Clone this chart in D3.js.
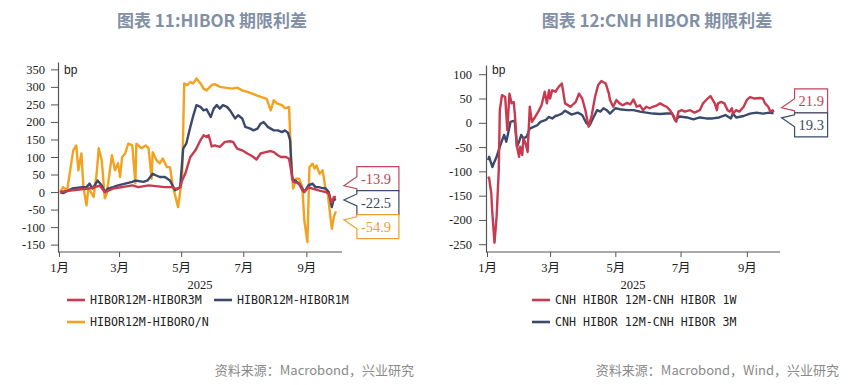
<!DOCTYPE html>
<html>
<head>
<meta charset="utf-8">
<script src="https://cdn.jsdelivr.net/npm/d3@7"></script>
<style>
  body { margin: 0; background: #fff; }
  svg { display: block; }
  .title { font-family: "Noto Sans CJK SC", sans-serif; font-weight: bold; font-size: 17px; fill: #8290a6; }
  .tick text { font-family: "Liberation Serif", "Noto Sans CJK SC", serif; font-size: 12.5px; fill: #222; }
  .legend text { font-family: "DejaVu Sans Mono", monospace; font-size: 11.6px; fill: #222; }
  .source { font-family: "Noto Sans CJK SC", sans-serif; font-size: 13px; fill: #8a8a8a; }
  .unit { font-family: "Liberation Sans", sans-serif; font-size: 12px; fill: #222; }
  .callout text { font-family: "Liberation Serif", serif; font-size: 14.5px; }
</style>
</head>
<body>
<div id="chart"></div>
<script>
// HIBOR term spreads, bp
const hibor3M = [
  ["01-02", 0], ["01-14", 5], ["01-30", 10], ["02-10", 18], ["02-15", 0], ["02-23", 10],
  ["03-04", 14], ["03-14", 19], ["03-20", 14], ["03-30", 19], ["04-06", 17], ["04-15", 14],
  ["04-22", 14], ["04-27", 8], ["04-30", 14], ["05-02", 33], ["05-05", 52], ["05-10", 100],
  ["05-15", 119], ["05-20", 148], ["05-23", 162], ["05-26", 157], ["05-28", 162], ["05-31", 130],
  ["06-03", 133], ["06-08", 129], ["06-13", 143], ["06-18", 145], ["06-21", 143], ["06-25", 124],
  ["06-30", 119], ["07-05", 110], ["07-10", 102], ["07-14", 93], ["07-18", 110], ["07-23", 114],
  ["07-28", 117], ["07-31", 114], ["08-04", 105], ["08-07", 100], ["08-12", 100], ["08-15", 95],
  ["08-17", 62], ["08-19", 29], ["08-23", 26], ["08-25", 22], ["08-28", 5], ["08-30", 0],
  ["09-03", 14], ["09-07", 10], ["09-13", 5], ["09-20", 0], ["09-23", -5], ["09-26", -30],
  ["09-28", -14], ["09-30", -13.9]
];
const hibor1M = [
  ["01-02", 0], ["01-05", -3], ["01-14", 10], ["01-24", 14], ["01-28", 14], ["01-31", 24],
  ["02-03", 10], ["02-08", 33], ["02-12", 19], ["02-15", 0], ["02-18", 10], ["02-23", 14],
  ["02-28", 19], ["03-07", 24], ["03-14", 29], ["03-17", 33], ["03-25", 29], ["03-29", 33],
  ["04-03", 52], ["04-06", 48], ["04-10", 43], ["04-15", 43], ["04-20", 33], ["04-25", 5],
  ["04-27", 10], ["04-30", 14], ["05-03", 124], ["05-06", 138], ["05-10", 186], ["05-13", 219],
  ["05-16", 248], ["05-20", 243], ["05-23", 233], ["05-26", 236], ["05-30", 214], ["06-02", 238],
  ["06-05", 248], ["06-08", 238], ["06-11", 248], ["06-15", 243], ["06-18", 233], ["06-23", 210],
  ["06-26", 219], ["06-30", 210], ["07-03", 186], ["07-08", 181], ["07-11", 176], ["07-15", 181],
  ["07-18", 195], ["07-21", 200], ["07-25", 186], ["07-28", 181], ["07-31", 176], ["08-04", 176],
  ["08-08", 171], ["08-11", 176], ["08-14", 169], ["08-16", 148], ["08-18", 38], ["08-21", 33],
  ["08-25", 24], ["08-28", 10], ["08-30", 0], ["09-03", 19], ["09-07", 24], ["09-10", 14],
  ["09-13", 14], ["09-16", 12], ["09-20", 10], ["09-23", 0], ["09-26", -43], ["09-28", -19],
  ["09-30", -22.5]
];
const hiborON = [
  ["01-02", 0], ["01-05", 14], ["01-09", 5], ["01-12", 62], ["01-15", 119], ["01-18", 133],
  ["01-20", 62], ["01-23", 110], ["01-25", 14], ["01-28", -38], ["01-30", 13], ["02-02", -4],
  ["02-04", -14], ["02-07", 53], ["02-09", 125], ["02-12", 90], ["02-15", -18], ["02-17", -4],
  ["02-20", 62], ["02-22", 105], ["02-25", 62], ["02-28", 82], ["03-02", 43], ["03-04", 100],
  ["03-07", 110], ["03-10", 138], ["03-14", 133], ["03-17", 25], ["03-18", 138], ["03-23", 125],
  ["03-27", 133], ["03-30", 125], ["04-02", 38], ["04-03", 114], ["04-07", 90], ["04-10", 82],
  ["04-13", 96], ["04-17", 71], ["04-20", 71], ["04-23", 14], ["04-28", -43], ["05-02", 43],
  ["05-04", 310], ["05-07", 305], ["05-10", 314], ["05-13", 310], ["05-16", 324], ["05-20", 310],
  ["05-23", 295], ["05-26", 290], ["05-31", 305], ["06-03", 308], ["06-08", 300], ["06-13", 298],
  ["06-20", 295], ["06-25", 298], ["06-30", 290], ["07-05", 286], ["07-10", 281], ["07-14", 276],
  ["07-19", 271], ["07-24", 266], ["07-28", 233], ["07-31", 262], ["08-03", 253], ["08-08", 248],
  ["08-11", 239], ["08-15", 243], ["08-17", 90], ["08-19", 10], ["08-22", 38], ["08-25", 38],
  ["08-28", 14], ["08-30", -81], ["09-02", -143], ["09-04", 71], ["09-07", 81], ["09-09", 67],
  ["09-11", 76], ["09-14", 52], ["09-17", 62], ["09-20", 5], ["09-22", -5], ["09-25", -81],
  ["09-26", -105], ["09-28", -71], ["09-30", -54.9]
];

// CNH HIBOR term spreads, bp
const cnh1W = [
  ["01-02", -111], ["01-03", -114], ["01-05", -145], ["01-06", -186], ["01-08", -247], ["01-10", -193],
  ["01-12", -97], ["01-13", 26], ["01-15", 57], ["01-18", 53], ["01-20", -15], ["01-22", 60],
  ["01-24", 40], ["01-26", 43], ["01-27", 19], ["01-29", -49], ["01-31", -70], ["02-01", -49],
  ["02-03", -66], ["02-04", -32], ["02-06", -42], ["02-08", -60], ["02-10", 33], ["02-12", 2],
  ["02-15", 12], ["02-18", 23], ["02-21", 36], ["02-24", 64], ["02-26", 40], ["02-28", 67],
  ["03-01", 50], ["03-03", 67], ["03-06", 64], ["03-09", 74], ["03-12", 81], ["03-15", 40],
  ["03-20", 33], ["03-25", 43], ["03-28", 60], ["03-31", 50], ["04-03", 26], ["04-06", -8],
  ["04-09", 16], ["04-12", 53], ["04-15", 78], ["04-18", 86], ["04-22", 81], ["04-25", 60],
  ["04-26", 47], ["04-29", 33], ["05-02", 47], ["05-05", 40], ["05-08", 36], ["05-12", 41],
  ["05-15", 38], ["05-18", 48], ["05-21", 33], ["05-24", 36], ["05-27", 26], ["05-30", 33],
  ["06-02", 30], ["06-05", 33], ["06-09", 36], ["06-12", 40], ["06-15", 36], ["06-18", 33],
  ["06-21", 26], ["06-24", 16], ["06-27", 2], ["06-29", 23], ["07-02", 26], ["07-05", 23],
  ["07-10", 26], ["07-14", 21], ["07-19", 26], ["07-22", 40], ["07-25", 47], ["07-29", 55],
  ["08-02", 40], ["08-04", 26], ["08-05", 40], ["08-08", 43], ["08-11", 40], ["08-14", 26],
  ["08-16", 23], ["08-18", 30], ["08-19", 19], ["08-22", 26], ["08-25", 23], ["08-29", 33],
  ["09-01", 47], ["09-04", 53], ["09-08", 50], ["09-13", 51], ["09-16", 50], ["09-18", 40],
  ["09-21", 33], ["09-23", 23], ["09-25", 26], ["09-26", 21.9]
];
const cnh3M = [
  ["01-02", -77], ["01-03", -70], ["01-06", -91], ["01-08", -80], ["01-10", -70], ["01-13", -49],
  ["01-17", -25], ["01-19", -39], ["01-21", -19], ["01-23", 2], ["01-26", 4], ["01-27", 2],
  ["01-29", -49], ["01-31", -39], ["02-02", -25], ["02-04", -32], ["02-07", -29], ["02-10", -12],
  ["02-14", -8], ["02-17", -5], ["02-20", 2], ["02-25", 6], ["02-28", 12], ["03-03", 9],
  ["03-06", 14], ["03-09", 16], ["03-12", 19], ["03-15", 25], ["03-18", 21], ["03-21", 17],
  ["03-24", 19], ["03-27", 21], ["03-31", 16], ["04-04", -1], ["04-07", -5], ["04-10", 9],
  ["04-14", 26], ["04-17", 23], ["04-20", 30], ["04-23", 26], ["04-26", 19], ["05-01", 30],
  ["05-05", 28], ["05-12", 26], ["05-18", 26], ["05-24", 23], ["05-30", 21], ["06-05", 19],
  ["06-12", 18], ["06-18", 19], ["06-23", 19], ["06-26", 5], ["06-30", 13], ["07-07", 11],
  ["07-13", 7], ["07-19", 11], ["07-25", 9], ["07-31", 9], ["08-06", 11], ["08-12", 16],
  ["08-17", 9], ["08-19", 19], ["08-22", 11], ["08-29", 14], ["09-04", 19], ["09-10", 21],
  ["09-16", 19], ["09-22", 21], ["09-26", 19.3]
];

const leftTicks = [-150, -100, -50, 0, 50, 100, 150, 200, 250, 300, 350];
const rightTicks = [-250, -200, -150, -100, -50, 0, 50, 100];

const parseDay = d3.timeParse("%Y-%m-%d");
const toPoints = (rows) => rows.map(([d, v]) => ({ date: parseDay("2025-" + d), value: v }));

const W = 863, H = 385;
const svg = d3.select("#chart").append("svg").attr("width", W).attr("height", H);

// Draw one panel
function drawPanel(cfg) {
  const x = d3.scaleTime().domain([parseDay("2025-01-01"), parseDay(cfg.xEnd)]).range(cfg.xRange);
  const y = d3.scaleLinear().domain(cfg.yDomain).range([cfg.bottom, cfg.top]);
  const g = svg.append("g");

  // title
  g.append("text").attr("class", "title")
    .attr("x", cfg.titleX).attr("y", 27).attr("text-anchor", "middle").text(cfg.title);

  // axes
  const yAxis = g.append("g")
    .attr("transform", `translate(${cfg.axisX},0)`)
    .call(d3.axisLeft(y).tickValues(cfg.yTicks).tickFormat((d) => String(d))
      .tickSize(cfg.yTickSize).tickSizeOuter(0).tickPadding(cfg.yTickPad));
  const xAxis = g.append("g")
    .attr("transform", `translate(0,${cfg.bottom})`)
    .call(d3.axisBottom(x).ticks(d3.timeMonth.every(2))
      .tickFormat((d) => d.getMonth() + 1 + "月").tickSize(5).tickSizeOuter(0).tickPadding(6));
  xAxis.select(".domain").attr("d", `M${cfg.axisX},0H${cfg.xRange[1]}`);
  [xAxis, yAxis].forEach((a) => {
    a.attr("font-family", null);
    a.select(".domain").attr("stroke", "#555").attr("stroke-width", 1.2);
    a.selectAll(".tick line").attr("stroke", "#555");
  });

  g.append("text").attr("x", (cfg.axisX + cfg.xRange[1]) / 2).attr("y", 289)
    .attr("text-anchor", "middle")
    .style("font-family", "Liberation Serif, serif").style("font-size", "12.5px").style("fill", "#222")
    .text("2025");

  g.append("text").attr("class", "unit").attr("x", cfg.axisX + 6).attr("y", 74).text("bp");

  // lines, drawn back to front
  const line = d3.line().x((d) => x(d.date)).y((d) => y(d.value));
  cfg.series.slice().reverse().forEach((s) => {
    g.append("path").datum(toPoints(s.rows))
      .attr("fill", "none").attr("stroke", s.color).attr("stroke-width", 2.4)
      .attr("stroke-linejoin", "round").attr("d", line);
  });

  // end value callouts, stacked around the mean end position
  const ends = cfg.series.map((s) => {
    const p = toPoints(s.rows);
    return { s, last: p[p.length - 1] };
  });
  const boxH = 24;
  const midY = d3.mean(ends, (e) => y(e.last.value));
  let top = midY - (boxH * ends.length) / 2;
  const tipX = x(ends[0].last.date) + 8;
  const boxX = tipX + 13;
  const cg = g.append("g").attr("class", "callout");
  ends.forEach((e) => {
    const bTop = top, bBot = top + boxH;
    const vy = y(e.last.value);
    const tipY = Math.max(bTop + 5, Math.min(bBot - 5, vy));
    const baseC = Math.max(bTop + 8, Math.min(bBot - 8, tipY));
    const path = `M${boxX},${bTop}H${boxX + cfg.boxW}V${bBot}H${boxX}V${baseC + 6}L${tipX},${tipY}L${boxX},${baseC - 6}Z`;
    cg.append("path").attr("d", path).attr("fill", "#fff")
      .attr("stroke", e.s.boxColor).attr("stroke-width", 1.2);
    cg.append("text").attr("x", boxX + 4).attr("y", bTop + boxH / 2 + 5)
      .attr("fill", e.s.boxColor).text(e.last.value.toFixed(1));
    top = bBot;
  });

  // legend
  const lg = g.append("g").attr("class", "legend");
  cfg.series.forEach((s, i) => {
    const [lx, ly] = cfg.legendPos[i];
    lg.append("line").attr("x1", lx).attr("x2", lx + 18).attr("y1", ly).attr("y2", ly)
      .attr("stroke", s.color).attr("stroke-width", 2.6);
    lg.append("text").attr("x", lx + 23).attr("y", ly + 4).text(s.name);
  });

  // source
  g.append("text").attr("class", "source").attr("x", cfg.sourceX).attr("y", 375)
    .attr("text-anchor", "end").text(cfg.source);
}

drawPanel({
  title: "图表 11:HIBOR 期限利差",
  titleX: 212,
  xEnd: "2025-10-06",
  xRange: [59, 342],
  axisX: 58,
  yDomain: [-171, 371],
  yTicks: leftTicks,
  yTickSize: 7,
  yTickPad: 6,
  top: 62,
  bottom: 252,
  boxW: 42,
  series: [
    { name: "HIBOR12M-HIBOR3M", rows: hibor3M, color: "#c83a50", boxColor: "#c0465a" },
    { name: "HIBOR12M-HIBOR1M", rows: hibor1M, color: "#3b4a6b", boxColor: "#3b4a6b" },
    { name: "HIBOR12M-HIBORO/N", rows: hiborON, color: "#f2a21f", boxColor: "#eda030" }
  ],
  legendPos: [[67, 300], [214, 300], [67, 322]],
  source: "资料来源：Macrobond，兴业研究",
  sourceX: 414
});

drawPanel({
  title: "图表 12:CNH HIBOR 期限利差",
  titleX: 657,
  xEnd: "2025-10-02",
  xRange: [487, 780],
  axisX: 486,
  yDomain: [-266, 119],
  yTicks: rightTicks,
  yTickSize: 7,
  yTickPad: 7,
  top: 65,
  bottom: 252,
  boxW: 33,
  series: [
    { name: "CNH HIBOR 12M-CNH HIBOR 1W", rows: cnh1W, color: "#c83a50", boxColor: "#c0465a" },
    { name: "CNH HIBOR 12M-CNH HIBOR 3M", rows: cnh3M, color: "#3b4a6b", boxColor: "#3b4a6b" }
  ],
  legendPos: [[532, 300], [532, 322]],
  source: "资料来源：Macrobond，Wind，兴业研究",
  sourceX: 839
});
</script>
</body>
</html>
